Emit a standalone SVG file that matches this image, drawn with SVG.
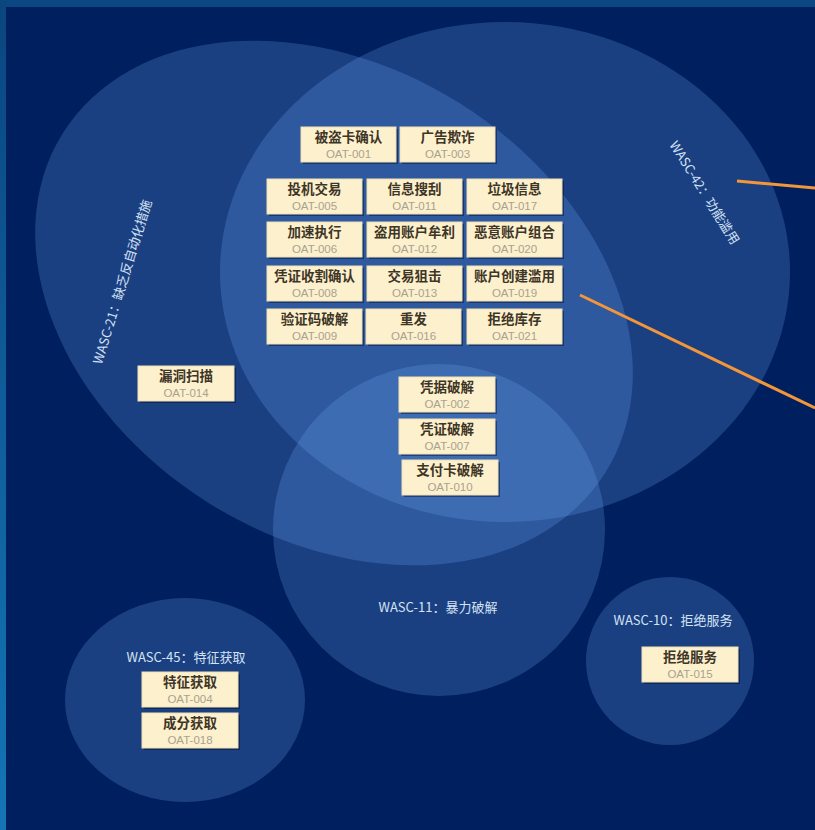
<svg xmlns="http://www.w3.org/2000/svg" width="815" height="830" viewBox="0 0 815 830">
<defs>
<linearGradient id="leftbar" x1="0" y1="0" x2="0" y2="1">
<stop offset="0" stop-color="#0a4680"/>
<stop offset="1" stop-color="#1475b5"/>
</linearGradient>
<style>
.set{fill:#72acf8;fill-opacity:0.24}
.box{fill:#fdf0cd;stroke:#efe0b6;stroke-width:1}
.shadow{fill:#000a2a;fill-opacity:0.45}
.t{font-family:"Noto Sans CJK SC","Noto Sans",sans-serif;font-size:13.5px;font-weight:bold;fill:#3d3526;text-anchor:middle}
.c{font-family:"Liberation Sans","Noto Sans",sans-serif;font-size:11.5px;fill:#a8a291;text-anchor:middle}
.lab{font-family:"Noto Sans CJK SC","Noto Sans",sans-serif;font-size:13px;fill:#d4e2f4;text-anchor:middle}
.conn{stroke:#f3963a;stroke-width:3;fill:none}
</style>
</defs>
<rect x="0" y="0" width="815" height="830" fill="#001f5e"/>
<rect x="0" y="0" width="815" height="7" fill="#0b4782"/>
<rect x="0" y="0" width="6" height="830" fill="url(#leftbar)"/>

<g id="sets">
<g id="wasc21"><ellipse class="set" cx="334" cy="303" rx="320" ry="236" transform="rotate(32 334 303)"/></g>
<g id="wasc42"><ellipse class="set" cx="505" cy="272" rx="285" ry="250"/></g>
<g id="wasc11"><ellipse class="set" cx="439" cy="530" rx="166" ry="166"/></g>
<g id="wasc45"><ellipse class="set" cx="185" cy="700" rx="120" ry="102"/></g>
<g id="wasc10"><ellipse class="set" cx="670" cy="661" rx="84" ry="84"/></g>
</g>

<g id="set-labels">
<text class="lab" transform="translate(704 193) rotate(58)" dy="4">WASC-42：功能滥用</text>
<text class="lab" transform="translate(123 282) rotate(-73)" dy="4">WASC-21：缺乏反自动化措施</text>
<text class="lab" x="438" y="612">WASC-11：暴力破解</text>
<text class="lab" x="186" y="662">WASC-45：特征获取</text>
<text class="lab" x="673" y="625">WASC-10：拒绝服务</text>
</g>

<g id="connectors">
<line class="conn" x1="737" y1="181" x2="815" y2="188"/>
<line class="conn" x1="580" y1="295" x2="815" y2="408"/>
</g>

<g id="oat001"><rect class="shadow" x="303" y="129" width="95" height="35"/><rect class="box" x="301" y="127" width="95" height="35"/><text class="t" x="348.5" y="142">被盗卡确认</text><text class="c" x="348.5" y="157.5">OAT-001</text></g>
<g id="oat003"><rect class="shadow" x="402" y="129" width="95" height="35"/><rect class="box" x="400" y="127" width="95" height="35"/><text class="t" x="447.5" y="142">广告欺诈</text><text class="c" x="447.5" y="157.5">OAT-003</text></g>

<g id="oat005"><rect class="shadow" x="269" y="181" width="95" height="35"/><rect class="box" x="267" y="179" width="95" height="35"/><text class="t" x="314.5" y="194">投机交易</text><text class="c" x="314.5" y="209.5">OAT-005</text></g>
<g id="oat011"><rect class="shadow" x="369" y="181" width="95" height="35"/><rect class="box" x="367" y="179" width="95" height="35"/><text class="t" x="414.5" y="194">信息搜刮</text><text class="c" x="414.5" y="209.5">OAT-011</text></g>
<g id="oat017"><rect class="shadow" x="469" y="181" width="95" height="35"/><rect class="box" x="467" y="179" width="95" height="35"/><text class="t" x="514.5" y="194">垃圾信息</text><text class="c" x="514.5" y="209.5">OAT-017</text></g>

<g id="oat006"><rect class="shadow" x="269" y="224" width="95" height="35"/><rect class="box" x="267" y="222" width="95" height="35"/><text class="t" x="314.5" y="237">加速执行</text><text class="c" x="314.5" y="252.5">OAT-006</text></g>
<g id="oat012"><rect class="shadow" x="369" y="224" width="95" height="35"/><rect class="box" x="367" y="222" width="95" height="35"/><text class="t" x="414.5" y="237">盗用账户牟利</text><text class="c" x="414.5" y="252.5">OAT-012</text></g>
<g id="oat020"><rect class="shadow" x="469" y="224" width="95" height="35"/><rect class="box" x="467" y="222" width="95" height="35"/><text class="t" x="514.5" y="237">恶意账户组合</text><text class="c" x="514.5" y="252.5">OAT-020</text></g>

<g id="oat008"><rect class="shadow" x="269" y="268" width="95" height="35"/><rect class="box" x="267" y="266" width="95" height="35"/><text class="t" x="314.5" y="281">凭证收割确认</text><text class="c" x="314.5" y="296.5">OAT-008</text></g>
<g id="oat013"><rect class="shadow" x="369" y="268" width="95" height="35"/><rect class="box" x="367" y="266" width="95" height="35"/><text class="t" x="414.5" y="281">交易狙击</text><text class="c" x="414.5" y="296.5">OAT-013</text></g>
<g id="oat019"><rect class="shadow" x="469" y="268" width="95" height="35"/><rect class="box" x="467" y="266" width="95" height="35"/><text class="t" x="514.5" y="281">账户创建滥用</text><text class="c" x="514.5" y="296.5">OAT-019</text></g>

<g id="oat009"><rect class="shadow" x="269" y="311" width="95" height="35"/><rect class="box" x="267" y="309" width="95" height="35"/><text class="t" x="314.5" y="324">验证码破解</text><text class="c" x="314.5" y="339.5">OAT-009</text></g>
<g id="oat016"><rect class="shadow" x="368" y="311" width="95" height="35"/><rect class="box" x="366" y="309" width="95" height="35"/><text class="t" x="413.5" y="324">重发</text><text class="c" x="413.5" y="339.5">OAT-016</text></g>
<g id="oat021"><rect class="shadow" x="469" y="311" width="95" height="35"/><rect class="box" x="467" y="309" width="95" height="35"/><text class="t" x="514.5" y="324">拒绝库存</text><text class="c" x="514.5" y="339.5">OAT-021</text></g>

<g id="oat014"><rect class="shadow" x="140" y="368" width="96" height="35"/><rect class="box" x="138" y="366" width="96" height="35"/><text class="t" x="186" y="381">漏洞扫描</text><text class="c" x="186" y="396.5">OAT-014</text></g>

<g id="oat002"><rect class="shadow" x="401" y="379" width="96" height="35"/><rect class="box" x="399" y="377" width="96" height="35"/><text class="t" x="447" y="392">凭据破解</text><text class="c" x="447" y="407.5">OAT-002</text></g>
<g id="oat007"><rect class="shadow" x="401" y="421" width="96" height="35"/><rect class="box" x="399" y="419" width="96" height="35"/><text class="t" x="447" y="434">凭证破解</text><text class="c" x="447" y="449.5">OAT-007</text></g>
<g id="oat010"><rect class="shadow" x="404" y="462" width="96" height="35"/><rect class="box" x="402" y="460" width="96" height="35"/><text class="t" x="450" y="475">支付卡破解</text><text class="c" x="450" y="490.5">OAT-010</text></g>

<g id="oat004"><rect class="shadow" x="144" y="674" width="96" height="35"/><rect class="box" x="142" y="672" width="96" height="35"/><text class="t" x="190" y="687">特征获取</text><text class="c" x="190" y="702.5">OAT-004</text></g>
<g id="oat018"><rect class="shadow" x="144" y="715" width="96" height="35"/><rect class="box" x="142" y="713" width="96" height="35"/><text class="t" x="190" y="728">成分获取</text><text class="c" x="190" y="743.5">OAT-018</text></g>

<g id="oat015"><rect class="shadow" x="644" y="649" width="96" height="35"/><rect class="box" x="642" y="647" width="96" height="35"/><text class="t" x="690" y="662">拒绝服务</text><text class="c" x="690" y="677.5">OAT-015</text></g>
</svg>
